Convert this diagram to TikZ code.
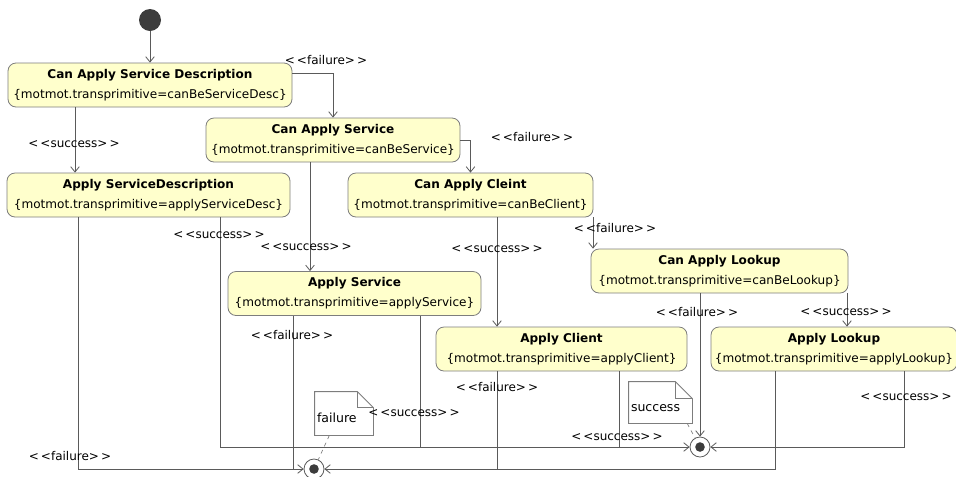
\documentclass[tikz,border=0pt]{standalone}
\usepackage{fontspec}
\setsansfont{DejaVu Sans}
\usepackage{pgf,tikz}
\usetikzlibrary{arrows.meta}
\usepackage{xcolor}
\definecolor{statefill}{RGB}{255,255,204}
\definecolor{stateline}{RGB}{125,125,125}
\definecolor{edgeline}{RGB}{90,90,90}
\definecolor{dotfill}{RGB}{60,60,60}

\begin{document}
\begin{tikzpicture}[x=0.75pt,y=-0.75pt,>={Straight Barb[length=4pt,width=6.5pt]},
		line width=0.6pt,
		state node/.style={rectangle,rounded corners=6pt,draw=stateline,fill=statefill,inner sep=0pt,
			minimum height=33pt,align=center,font=\sffamily\fontsize{9.05}{15}\selectfont},
		start node/.style={circle,fill=dotfill,minimum size=16.5pt,inner sep=0pt},
		end node/.style={circle,draw=edgeline,fill=white,minimum size=15pt,inner sep=0pt,
			path picture={\fill[dotfill] (path picture bounding box.center) circle (3.6pt);}},
		guard/.style={font=\sffamily\fontsize{9}{10}\selectfont,inner sep=1pt},
		note node/.style={inner sep=1.5pt,align=left,text height=14pt,text depth=0pt,
			font=\sffamily\fontsize{9.4}{10}\selectfont},
		flow/.style={draw=edgeline},
		note link/.style={draw=stateline,dashed,line width=0.5pt}]
	\useasboundingbox (0,0) rectangle (956,476);
	% Nodes
	\node[start node] (init) at (150,20) {};
	\node[state node,minimum width=213pt] (casd) at (150,85)
		{\textbf{Can Apply Service Description}\\\{motmot.transprimitive=canBeServiceDesc\}};
	\node[state node,minimum width=190.5pt] (cas) at (333,140)
		{\textbf{Can Apply Service}\\\{motmot.transprimitive=canBeService\}};
	\node[state node,minimum width=212.25pt] (asd) at (148.5,195)
		{\textbf{Apply ServiceDescription}\\\{motmot.transprimitive=applyServiceDesc\}};
	\node[state node,minimum width=183.75pt] (cac) at (470.5,195)
		{\textbf{Can Apply Cleint}\\\{motmot.transprimitive=canBeClient\}};
	\node[state node,minimum width=189.75pt] (as) at (354.5,293.5)
		{\textbf{Apply Service}\\\{motmot.transprimitive=applyService\}};
	\node[state node,minimum width=192.75pt] (cal) at (719.5,271)
		{\textbf{Can Apply Lookup}\\\{motmot.transprimitive=canBeLookup\}};
	\node[state node,minimum width=188.25pt] (ac) at (561.5,349)
		{\textbf{Apply Client}\\\{motmot.transprimitive=applyClient\}};
	\node[state node,minimum width=184.5pt] (al) at (834,349)
		{\textbf{Apply Lookup}\\\{motmot.transprimitive=applyLookup\}};
	\node[end node] (f1) at (314,469) {};
	\node[end node] (f2) at (700,447) {};
	\node[note node,minimum width=43.5pt,minimum height=32.25pt,text width=40.5pt] (nfail) at (344,413.5)
		{failure};
	\node[note node,minimum width=47.25pt,minimum height=30.75pt,text width=44.25pt] (nsucc) at (660.5,402.5)
		{success};

	% Columns of the vertical flows
	\coordinate (c1) at (75,0);
	\coordinate (c2) at (78,0);
	\coordinate (c3) at (220,0);
	\coordinate (c4) at (293,0);
	\coordinate (c5) at (310,0);
	\coordinate (c6) at (420,0);
	\coordinate (c7) at (497,0);
	\coordinate (c8) at (593,0);
	\coordinate (c9) at (619,0);
	\coordinate (c10) at (775,0);
	\coordinate (c11) at (847,0);
	\coordinate (c12) at (904,0);

	% Edges
	\draw[flow,->] (init) -- (casd);
	\draw[flow,->] ([yshift=9pt]casd.east) -| (cas.north);
	\draw[flow,->] (casd.south -| c1) -- (asd.north -| c1);
	\draw[flow,->] (cas.east) -| (cac.north);
	\draw[flow,->] (cas.south -| c5) -- (as.north -| c5);
	\draw[flow,->] (cac.south -| c7) -- (ac.north -| c7);
	\draw[flow,->] (cac.south -| c8) -- (cal.north -| c8);
	\draw[flow,->] (cal.south -| f2) -- (f2.north);
	\draw[flow,->] (cal.south -| c11) -- (al.north -| c11);
	\draw[flow,->] (asd.south -| c2) |- (f1.west);
	\draw[flow]    (as.south -| c4) -- (c4 |- f1);
	\draw[flow]    (ac.south -| c7) -- (c7 |- f1);
	\draw[flow,->] (al.south -| c10) |- (f1.east);
	\draw[flow,->] (asd.south -| c3) |- (f2.west);
	\draw[flow]    (as.south -| c6) -- (c6 |- f2);
	\draw[flow]    (ac.south -| c9) -- (c9 |- f2);
	\draw[flow,->] (al.south -| c12) |- (f2.east);

	% Notes
	\draw[stateline] (nfail.north west) -- ([xshift=-12pt]nfail.north east) -- ([yshift=-12pt]nfail.north east)
		-- (nfail.south east) -- (nfail.south west) -- cycle;
	\draw[stateline] ([xshift=-12pt]nfail.north east) |- ([yshift=-12pt]nfail.north east);
	\draw[stateline] (nsucc.north west) -- ([xshift=-12.75pt]nsucc.north east) -- ([yshift=-12.75pt]nsucc.north east)
		-- (nsucc.south east) -- (nsucc.south west) -- cycle;
	\draw[stateline] ([xshift=-12.75pt]nsucc.north east) |- ([yshift=-12.75pt]nsucc.north east);
	\draw[note link] ([xshift=-11pt]nfail.south) -- (f1);
	\draw[note link] ([xshift=20pt]nsucc.south) -- (f2);

	% Guards
	\node[guard] (g1) at (326,60) {<\,<failure>\,>};
	\node[guard] (g2) at (74,144) {<\,<success>\,>};
	\node[guard] (g3) at (532,137) {<\,<failure>\,>};
	\node[guard] (g4) at (306,247) {<\,<success>\,>};
	\node[guard] (g5) at (219,235) {<\,<success>\,>};
	\node[guard] (g6) at (497,249) {<\,<success>\,>};
	\node[guard] (g7) at (615,228) {<\,<failure>\,>};
	\node[guard] (g8) at (292,335) {<\,<failure>\,>};
	\node[guard] (g9) at (414,413) {<\,<success>\,>};
	\node[guard] (g10) at (497,387) {<\,<failure>\,>};
	\node[guard] (g11) at (617,437) {<\,<success>\,>};
	\node[guard] (g12) at (697,312) {<\,<failure>\,>};
	\node[guard] (g13) at (846,312) {<\,<success>\,>};
	\node[guard] (g14) at (906,397) {<\,<success>\,>};
	\node[guard] (g15) at (70,456) {<\,<failure>\,>};
\end{tikzpicture}
\end{document}
